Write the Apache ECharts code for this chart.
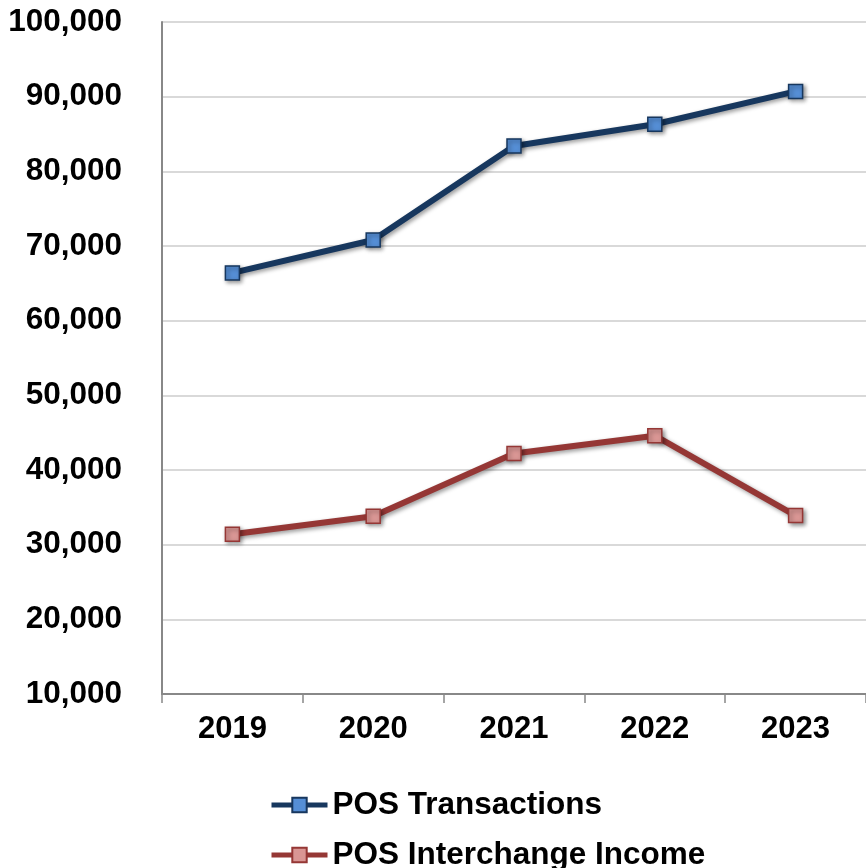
<!DOCTYPE html>
<html>
<head>
<meta charset="utf-8">
<script src="https://cdn.jsdelivr.net/npm/echarts@6/dist/echarts.min.js"></script>
<style>
html,body{margin:0;padding:0;background:#fff;}
#chart{width:866px;height:868px;}
</style>
</head>
<body>
<div id="chart"></div>
<script>
const years = ['2019', '2020', '2021', '2022', '2023'];
const posTransactions = [66400, 70800, 83400, 86300, 90700];
const posInterchangeIncome = [31400, 33800, 42200, 44600, 33900];
const seriesNames = ['POS Transactions', 'POS Interchange Income'];

const font = '"Liberation Sans", Arial, sans-serif';
const shadow = {shadowColor: 'rgba(0,0,0,0.4)', shadowBlur: 4, shadowOffsetX: 2, shadowOffsetY: 2};

function legendFor(name, top) {
  return {
    orient: 'vertical',
    left: 264, top: top,
    itemWidth: 56, itemHeight: 18,
    lineStyle: {width: 5},
    textStyle: {color: '#000', fontFamily: font, fontWeight: 'bold', fontSize: 31.5},
    data: [name]
  };
}

const chart = echarts.init(document.getElementById('chart'), null, {renderer: 'canvas'});
chart.setOption({
  animation: false,
  backgroundColor: '#ffffff',
  grid: {left: 162, top: 22, width: 706.5, height: 672, containLabel: false},
  xAxis: {
    type: 'category',
    data: years,
    boundaryGap: true,
    axisLine: {lineStyle: {color: '#888888', width: 2}},
    axisTick: {show: true, length: 9, lineStyle: {color: '#888888', width: 1.5}},
    axisLabel: {color: '#000', fontFamily: font, fontWeight: 'bold', fontSize: 31, margin: 20}
  },
  yAxis: {
    type: 'value',
    min: 10000, max: 100000, interval: 10000,
    axisLine: {show: true, lineStyle: {color: '#888888', width: 2}},
    axisTick: {show: false},
    splitLine: {lineStyle: {color: '#d9d9d9', width: 2}},
    axisLabel: {
      color: '#000', fontFamily: font, fontWeight: 'bold', fontSize: 31.5, margin: 40,
      formatter: v => v.toLocaleString('en-US')
    }
  },
  legend: [legendFor(seriesNames[0], 784), legendFor(seriesNames[1], 834)],
  series: [
    {
      name: seriesNames[0], type: 'line', data: posTransactions,
      symbol: 'rect', symbolSize: 14,
      lineStyle: Object.assign({color: '#17375E', width: 6}, shadow),
      itemStyle: Object.assign({color: '#558ED5', borderColor: '#17375E', borderWidth: 1.5}, shadow),
      emphasis: {disabled: true}, z: 3
    },
    {
      name: seriesNames[1], type: 'line', data: posInterchangeIncome,
      symbol: 'rect', symbolSize: 14,
      lineStyle: Object.assign({color: '#953735', width: 6}, shadow),
      itemStyle: Object.assign({color: '#D99694', borderColor: '#953735', borderWidth: 1.5}, shadow),
      emphasis: {disabled: true}, z: 2
    }
  ]
});
</script>
</body>
</html>
